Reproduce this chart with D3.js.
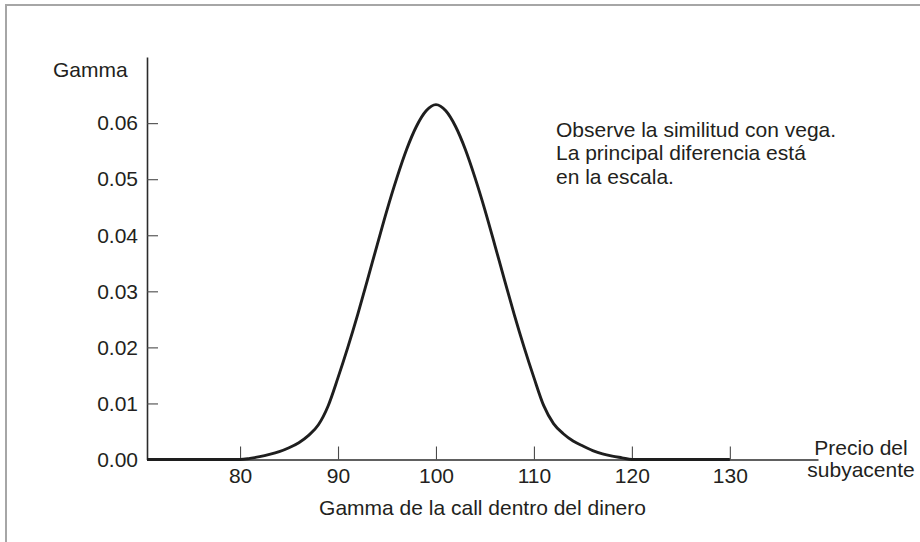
<!DOCTYPE html>
<html>
<head>
<meta charset="utf-8">
<script src="https://cdn.jsdelivr.net/npm/d3@7"></script>
<style>
  html, body { margin: 0; padding: 0; background: #fff; }
  svg { display: block; }
  text { font-family: "Liberation Sans", Arial, Helvetica, sans-serif; fill: #231f20; }
</style>
</head>
<body>
<svg id="chart" width="920" height="542"></svg>
<script>
// Underlying price (x) and the gamma of an at-the-money call (y)
const prices = [70.5, 80, 81, 82, 83, 84, 85, 86, 87, 88, 89, 90, 91, 92, 93, 94, 95, 96, 97, 98, 99, 100,
                101, 102, 103, 104, 105, 106, 107, 108, 109, 110, 111, 112, 113, 114, 115, 116, 117, 118, 119, 120, 130];
const gamma  = [0, 0, 0.0002, 0.0005, 0.0009, 0.0014, 0.0021, 0.0030, 0.0043, 0.0062, 0.0096, 0.0146, 0.0200,
                0.0258, 0.0320, 0.0383, 0.0445, 0.0502, 0.0553, 0.0594, 0.0622, 0.0633,
                0.0622, 0.0594, 0.0553, 0.0502, 0.0445, 0.0383, 0.0320, 0.0258, 0.0200, 0.0146, 0.0096,
                0.0064, 0.0046, 0.0033, 0.0024, 0.0016, 0.0010, 0.0006, 0.0003, 0, 0];

const xTicks = [80, 90, 100, 110, 120, 130];
const yTicks = [0, 0.01, 0.02, 0.03, 0.04, 0.05, 0.06];

const yTitle = "Gamma";
const xTitle = "Gamma de la call dentro del dinero";
const xEndLabel = ["Precio del", "subyacente"];
const note = ["Observe la similitud con vega.", "La principal diferencia está", "en la escala."];

const svg = d3.select("#chart");

// Frame lines along the top and left edges
svg.append("path")
  .attr("d", "M6,542 V5 H920")
  .attr("fill", "none")
  .attr("stroke", "#a6a6a6")
  .attr("stroke-width", 2);

const x = d3.scaleLinear().domain([70.5, 139]).range([147, 818]);
const y = d3.scaleLinear().domain([0, 0.0718]).range([459.5, 57]);

const fmt = d3.format(".2f");
const fontSize = 21;

// X axis with ticks pointing up into the plot
const gx = svg.append("g")
  .attr("transform", `translate(0,${y(0)})`)
  .call(d3.axisBottom(x).tickValues(xTicks).tickSizeInner(-13).tickSizeOuter(0).tickPadding(9).tickFormat(d3.format("d")));

// Y axis with ticks pointing right into the plot
const gy = svg.append("g")
  .attr("transform", `translate(${x(70.5)},0)`)
  .call(d3.axisLeft(y).tickValues(yTicks).tickSizeInner(-11).tickSizeOuter(0).tickPadding(9).tickFormat(fmt));

[gx, gy].forEach(g => {
  g.select(".domain").attr("stroke", "#2b2b2b").attr("stroke-width", 1.6);
  g.selectAll(".tick line").attr("stroke", "#4a4a4a").attr("stroke-width", 1.1);
  g.selectAll(".tick text")
    .attr("font-size", fontSize)
    .attr("font-family", "'Liberation Sans', Arial, Helvetica, sans-serif")
    .attr("fill", "#231f20");
});

// Gamma curve
const pts = prices.map((p, i) => [p, gamma[i]]);
svg.append("path")
  .datum(pts)
  .attr("fill", "none")
  .attr("stroke", "#1e1e1e")
  .attr("stroke-width", 2.9)
  .attr("stroke-linejoin", "round")
  .attr("d", d3.line().x(d => x(d[0])).y(d => y(d[1])).curve(d3.curveMonotoneX));

// Titles and annotation
svg.append("text")
  .attr("x", 53).attr("y", 77)
  .attr("font-size", fontSize)
  .text(yTitle);

svg.append("text")
  .attr("x", (x.range()[0] + x.range()[1]) / 2).attr("y", 515)
  .attr("text-anchor", "middle")
  .attr("font-size", fontSize)
  .text(xTitle);

svg.append("text")
  .attr("x", 861).attr("y", 455)
  .attr("text-anchor", "middle")
  .attr("font-size", fontSize)
  .selectAll("tspan")
  .data(xEndLabel)
  .join("tspan")
  .attr("x", 861)
  .attr("dy", (d, i) => i === 0 ? 0 : 22)
  .text(d => d);

svg.append("text")
  .attr("x", 556).attr("y", 137)
  .attr("font-size", fontSize)
  .selectAll("tspan")
  .data(note)
  .join("tspan")
  .attr("x", 556)
  .attr("dy", (d, i) => i === 0 ? 0 : 23.3)
  .text(d => d);
</script>
</body>
</html>
